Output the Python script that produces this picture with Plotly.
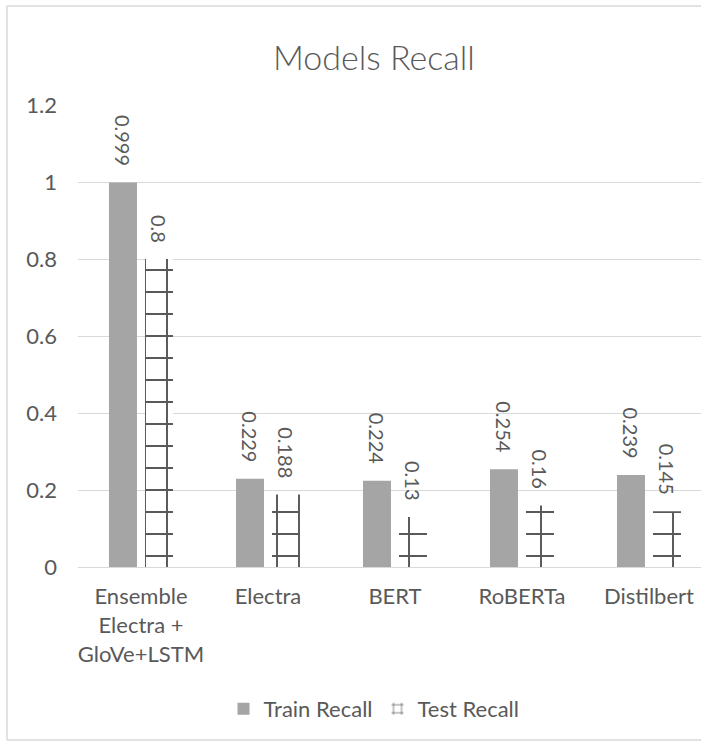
import plotly.graph_objects as go

categories = ["Ensemble<br>Electra +<br>GloVe+LSTM", "Electra", "BERT", "RoBERTa", "Distilbert"]
train_recall = [0.999, 0.229, 0.224, 0.254, 0.239]
test_recall = [0.8, 0.188, 0.13, 0.16, 0.145]
train_labels = ["0.999", "0.229", "0.224", "0.254", "0.239"]
test_labels = ["0.8", "0.188", "0.13", "0.16", "0.145"]
y_ticks = [0, 0.2, 0.4, 0.6, 0.8, 1.0, 1.2]
y_tick_labels = ["0", "0.2", "0.4", "0.6", "0.8", "1", "1.2"]

FONT = "Lato"
TXT = "#595959"
GRID = "#D9D9D9"

W, H = 701, 745
L, R, T, B = 78, 0, 105, 178
pw = W - L - R
ph = H - T - B
cat_px = 127.0
x0 = -0.496
bar_w = 28 / cat_px
dx = 18 / cat_px
shift2 = 12  # pattern subplot origin shift (px)

def px_x(p):
    return (p - L) / pw

def px_y(p):
    return (H - B - p) / ph

xs = list(range(len(categories)))

fig = go.Figure()
fig.add_trace(go.Bar(
    x=xs, y=train_recall, name="Train Recall",
    width=bar_w, offset=-dx - bar_w / 2,
    marker=dict(color="#A5A5A5", line=dict(width=0)),
    xaxis="x", yaxis="y",
))
fig.add_trace(go.Bar(
    x=xs, y=test_recall, name="Test Recall",
    width=bar_w, offset=dx - bar_w / 2,
    marker=dict(color="white", line=dict(width=0),
                pattern=dict(shape="+", size=22, solidity=0.17,
                             fgcolor="#595959", bgcolor="white", fillmode="replace")),
    xaxis="x2", yaxis="y2",
))

annotations = []
for i, (v, t) in enumerate(zip(train_recall, train_labels)):
    annotations.append(dict(x=i - dx, y=v, xref="x", yref="y", text=t, showarrow=False,
                            textangle=90, xanchor="center", yanchor="bottom", yshift=14,
                            font=dict(family=FONT, size=20, color=TXT)))
for i, (v, t) in enumerate(zip(test_recall, test_labels)):
    annotations.append(dict(x=i + dx, y=v, xref="x", yref="y", text=t, showarrow=False,
                            textangle=90, xanchor="center", yanchor="bottom", yshift=14,
                            font=dict(family=FONT, size=20, color=TXT)))

annotations.append(dict(x=px_x(374), y=px_y(57), xref="paper", yref="paper",
                        text="Models Recall", showarrow=False,
                        xanchor="center", yanchor="middle",
                        font=dict(family=FONT, size=34, color=TXT, weight=300)))

border = dict(color=GRID, width=1.5)
shapes = [
    dict(type="line", xref="paper", yref="paper", x0=px_x(7), x1=px_x(760),
         y0=px_y(6), y1=px_y(6), line=border, layer="below"),
    dict(type="line", xref="paper", yref="paper", x0=px_x(7), x1=px_x(7),
         y0=px_y(6), y1=px_y(740), line=border, layer="below"),
    dict(type="line", xref="paper", yref="paper", x0=px_x(7), x1=px_x(760),
         y0=px_y(740), y1=px_y(740), line=border, layer="below"),
]

fig.update_layout(
    width=W, height=H,
    margin=dict(l=L, r=R, t=T, b=B, pad=0),
    paper_bgcolor="white", plot_bgcolor="rgba(0,0,0,0)",
    barmode="overlay",
    font=dict(family=FONT, size=22, color=TXT),
    showlegend=True,
    legend=dict(orientation="h", x=px_x(374), y=px_y(709), xanchor="center", yanchor="middle",
                font=dict(family=FONT, size=22, color=TXT), bgcolor="rgba(0,0,0,0)",
                itemwidth=30, traceorder="normal"),
    annotations=annotations,
    shapes=shapes,
    xaxis=dict(
        domain=[0, 1],
        tickmode="array", tickvals=xs, ticktext=categories,
        range=[x0, x0 + pw / cat_px],
        showgrid=False, showline=True, linecolor=GRID, linewidth=1,
        ticks="", ticklabelstandoff=10,
        tickfont=dict(family=FONT, size=22, color=TXT), zeroline=False,
    ),
    yaxis=dict(
        domain=[0, 1],
        range=[0, 1.2], tickmode="array", tickvals=y_ticks, ticktext=y_tick_labels,
        showgrid=True, gridcolor=GRID, gridwidth=1, zeroline=False,
        showline=False, ticks="", ticklabelstandoff=20,
        tickfont=dict(family=FONT, size=22, color=TXT),
    ),
    xaxis2=dict(
        domain=[shift2 / pw, 1], anchor="y2",
        range=[x0 + shift2 / cat_px, x0 + pw / cat_px],
        visible=False, showgrid=False, zeroline=False,
    ),
    yaxis2=dict(
        domain=[0, 1], anchor="x2", range=[0, 1.2],
        visible=False, showgrid=False, zeroline=False,
    ),
)

fig.write_html("out.html", config={"displayModeBar": False},
               post_script="document.body.style.margin='0';document.body.style.overflow='hidden';")
